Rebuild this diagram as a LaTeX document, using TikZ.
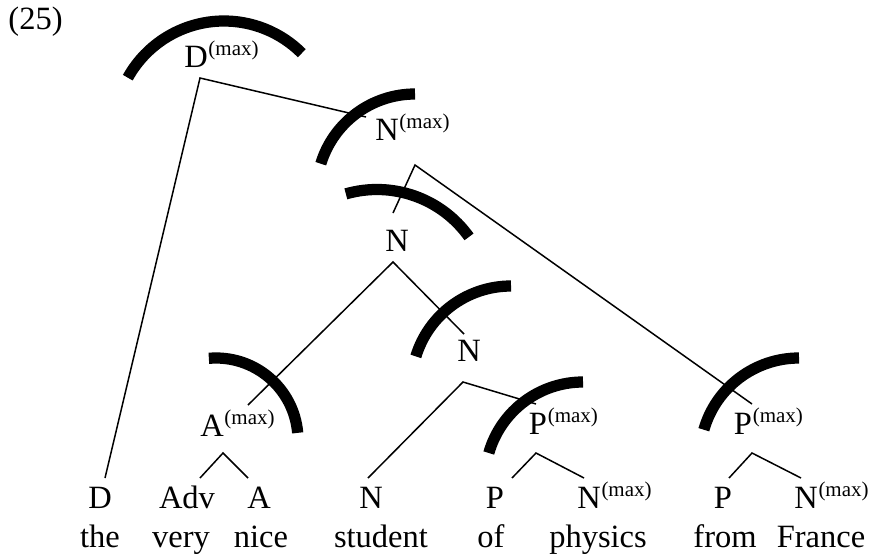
\documentclass[tikz,border=0pt]{standalone}
\usepackage{fontspec}
\setmainfont{Liberation Serif}
\newcommand{\mx}{\rlap{\hspace{0.3pt}\raisebox{4.8pt}{\fontsize{8.4}{10}\selectfont (max)}}}

\begin{document}
\begin{tikzpicture}[
      x=0.4pt, y=-0.4pt,
      lbl/.style={anchor=base, inner sep=0pt, font=\fontsize{13}{15}\selectfont},
      br/.style={line width=0.6pt},
      dom/.style={line width=4.5pt}
  ]
    \useasboundingbox (0,0) rectangle (870,553);
    \node[lbl, anchor=base west] (ex) at (8,29) {(25)};
    % phrase labels
    \node[lbl] (dmax) at (196,67) {D\mx};
    \node[lbl] (nmax) at (387,140) {N\mx};
    \node[lbl] (nbar) at (397,251) {N};
    \node[lbl] (nlow) at (469,361) {N};
    \node[lbl] (amax) at (212,436) {A\mx};
    \node[lbl] (pofmax) at (538,434) {P\mx};
    \node[lbl] (pfrmax) at (743,434) {P\mx};
    % categories
    \node[lbl] (d) at (100,508) {D};
    \node[lbl] (adv) at (187,508) {Adv};
    \node[lbl] (a) at (259,508) {A};
    \node[lbl] (n) at (371,508) {N};
    \node[lbl] (pof) at (495,508) {P};
    \node[lbl] (nphys) at (589,508) {N\mx};
    \node[lbl] (pfr) at (723,508) {P};
    \node[lbl] (nfr) at (806,508) {N\mx};
    % words
    \node[lbl] (w1) at (100,547) {the};
    \node[lbl] (w2) at (181,547) {very};
    \node[lbl] (w3) at (261,547) {nice};
    \node[lbl] (w4) at (381,547) {student};
    \node[lbl] (w5) at (491,547) {of};
    \node[lbl] (w6) at (598,547) {physics};
    \node[lbl] (w7) at (725,547) {from};
    \node[lbl] (w8) at (821,547) {France};
    % branch ends
    \coordinate (dmax-b) at (200,78);
    \coordinate (nmax-t) at (366,117);
    \coordinate (d-t) at (105,478);
    \coordinate (nmax-b) at (415,165);
    \coordinate (nbar-t) at (393,213);
    \coordinate (pfrmax-t) at (752,404);
    \coordinate (nbar-b) at (393,262);
    \coordinate (amax-t) at (248,405);
    \coordinate (nlow-t) at (464,334);
    \coordinate (nlow-b) at (463,382);
    \coordinate (n-t) at (368,478);
    \coordinate (pofmax-t) at (536,404);
    \coordinate (amax-b) at (223,453);
    \coordinate (adv-t) at (200,478);
    \coordinate (a-t) at (248,478);
    \coordinate (pofmax-b) at (536,453);
    \coordinate (pof-t) at (512,478);
    \coordinate (nphys-t) at (584,478);
    \coordinate (pfrmax-b) at (752,453);
    \coordinate (pfr-t) at (729,478);
    \coordinate (nfr-t) at (801,478);
    \draw[br] (d-t) -- (dmax-b) -- (nmax-t);
    \draw[br] (nbar-t) -- (nmax-b) -- (pfrmax-t);
    \draw[br] (amax-t) -- (nbar-b) -- (nlow-t);
    \draw[br] (n-t) -- (nlow-b) -- (pofmax-t);
    \draw[br] (adv-t) -- (amax-b) -- (a-t);
    \draw[br] (pof-t) -- (pofmax-b) -- (nphys-t);
    \draw[br] (pfr-t) -- (pfrmax-b) -- (nfr-t);
    % domain arcs
    \draw[dom] (224,131) ++(151:44pt) arc[start angle=151, end angle=45, radius=44pt];
    \draw[dom] (415,192.5) ++(163:39.4pt) arc[start angle=163, end angle=90, radius=39.4pt];
    \draw[dom] (377,302.5) ++(106:45.2pt) arc[start angle=106, end angle=35.5, radius=45.2pt];
    \draw[dom] (216,440) ++(95:32.8pt) arc[start angle=95, end angle=5, radius=32.8pt];
    \draw[dom] (511,385.5) ++(163:39.8pt) arc[start angle=163, end angle=90, radius=39.8pt];
    \draw[dom] (583,480) ++(164:39.2pt) arc[start angle=164, end angle=90, radius=39.2pt];
    \draw[dom] (799,457) ++(164:39.6pt) arc[start angle=164, end angle=90, radius=39.6pt];
  \end{tikzpicture}
\end{document}
